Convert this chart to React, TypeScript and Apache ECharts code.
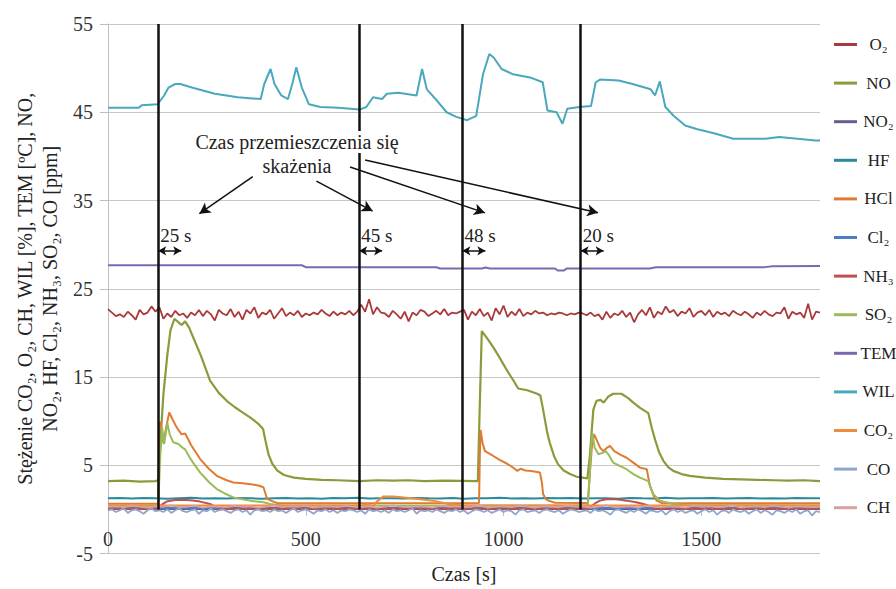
import { useEffect, useRef } from 'react';
import * as echarts from 'echarts';

const FONT = '"Liberation Serif", "DejaVu Serif", serif';

// Series names (legend order)
const seriesNames = ['O₂', 'NO', 'NO₂', 'HF', 'HCl', 'Cl₂', 'NH₃', 'SO₂', 'TEM', 'WIL', 'CO₂', 'CO', 'CH'];
const seriesColors = ['#a83a3a', '#8c9a3c', '#6b5b95', '#2a8a9c', '#e07b32', '#4a7fbf', '#c0504d', '#9bbb59', '#7c68b0', '#4aa8bd', '#f08c3a', '#8ea6c8', '#d8a0a0'];

// O₂ sampled every 10 s
const o2Step = 10;
const o2Values = [
  22.7, 22.3, 21.9, 22.1, 21.8, 22.4, 22.0, 21.5, 22.6, 22.1,
  22.3, 23.0, 22.4, 22.9, 21.6, 22.2, 21.8, 22.5, 22.0, 22.2,
  21.7, 22.3, 22.0, 22.6, 21.9, 22.5, 22.1, 21.4, 22.6, 22.2,
  22.0, 22.7, 21.8, 22.4, 21.5, 22.6, 22.2, 22.9, 21.7, 22.3,
  22.1, 22.6, 21.6, 22.2, 22.8, 21.9, 22.3, 22.0, 22.5, 21.8,
  22.2, 22.0, 22.3, 22.1, 22.6, 22.2, 21.9, 22.4, 22.0, 22.3,
  22.1, 22.5, 22.0, 22.4, 23.2, 22.4, 23.8, 22.1, 22.9, 22.3,
  22.2, 21.8, 22.5, 22.1, 21.6, 22.4, 21.3, 22.3, 22.0, 22.6,
  22.4, 21.9, 22.2, 22.5, 22.1, 22.7, 22.0, 22.3, 22.2, 22.4,
  22.6, 21.5, 22.4, 22.0, 22.7, 21.9, 22.3, 21.4, 22.8, 22.1,
  23.1, 21.8, 22.4, 22.0, 22.7, 21.9, 22.3, 22.1, 22.5, 22.2,
  22.3, 22.0, 22.2, 22.1, 22.3, 22.2, 22.0, 22.2, 22.1, 22.3,
  22.2, 22.0, 22.3, 21.9, 22.1, 21.5, 22.4, 21.7, 22.2, 22.0,
  22.5, 21.8, 22.3, 21.2, 22.1, 22.6, 22.0, 22.9, 21.7, 22.4,
  22.1, 23.0, 22.3, 22.6, 21.9, 22.4, 22.2, 22.8, 21.8, 22.3,
  22.5, 22.0, 22.6, 21.8, 22.4, 22.1, 22.3, 21.9, 22.5, 22.2,
  22.0, 22.4, 22.1, 21.7, 22.3, 22.0, 22.5, 22.1, 21.9, 22.3,
  22.2, 22.9, 21.6, 22.4, 22.1, 22.3, 21.7, 23.3, 21.5, 22.4,
  22.3,
];

const noPoints = [
  [0, 3.2], [40, 3.25], [80, 3.15], [120, 3.2], [127, 3.3], [133, 8], [140, 13], [150, 17.5], [158, 20.3],
  [168, 21.6], [178, 21.2], [186, 20.9], [195, 21.3], [205, 20.6], [220, 19], [235, 17.4], [258, 14.6],
  [280, 13.2], [300, 12.3], [320, 11.6], [340, 11.0], [360, 10.4], [380, 9.7], [392, 9.1], [398, 7.8],
  [406, 6.2], [415, 5.2], [428, 4.4], [445, 3.9], [470, 3.6], [500, 3.45], [540, 3.35], [580, 3.3],
  [636, 3.2], [680, 3.3], [720, 3.25], [760, 3.3], [800, 3.2], [850, 3.25], [935, 3.2], [940, 12],
  [945, 20.2], [960, 19.3], [975, 18.3], [990, 17.2], [1008, 15.8], [1025, 14.6], [1037, 13.7],
  [1060, 13.5], [1085, 13.1], [1093, 12.9], [1100, 11.3], [1110, 8.8], [1117, 7.5], [1128, 6.0],
  [1138, 5.1], [1152, 4.4], [1168, 4.0], [1185, 3.7], [1200, 3.6], [1212, 3.5], [1218, 6], [1227, 11.3],
  [1235, 12.3], [1245, 12.4], [1253, 12.1], [1265, 12.8], [1277, 13.1], [1298, 13.1], [1315, 12.6],
  [1328, 12.1], [1345, 11.5], [1366, 10.9], [1375, 9.2], [1383, 7.9], [1393, 6.5], [1404, 5.5],
  [1416, 4.8], [1429, 4.36], [1450, 4.0], [1471, 3.8], [1510, 3.6], [1555, 3.45], [1600, 3.4],
  [1640, 3.35], [1682, 3.3], [1720, 3.25], [1760, 3.3], [1800, 3.2],
];

const no2Points = [[0, 0.05], [1800, 0.05]];

// HF sampled every 30 s
const hfStep = 30;
const hfValues = [
  1.25, 1.30, 1.22, 1.28, 1.25, 1.20, 1.27, 1.32, 1.24, 1.26,
  1.22, 1.29, 1.25, 1.21, 1.27, 1.30, 1.24, 1.26, 1.20, 1.28,
  1.25, 1.31, 1.23, 1.27, 1.25, 1.22, 1.29, 1.26, 1.24, 1.30,
  1.21, 1.27, 1.25, 1.33, 1.24, 1.26, 1.22, 1.28, 1.25, 1.30,
  1.23, 1.27, 1.25, 1.21, 1.29, 1.26, 1.24, 1.31, 1.22, 1.27,
  1.25, 1.30, 1.23, 1.26, 1.28, 1.24, 1.27, 1.22, 1.29, 1.25,
  1.26,
];

const hclPoints = [
  [0, 0.65], [127, 0.65], [129, 9.6], [133, 9.9], [140, 7.5], [148, 9.5], [155, 11.0], [162, 10.3],
  [170, 9.6], [178, 9.0], [186, 8.5], [195, 8.6], [202, 8.0], [210, 7.3], [233, 5.7], [255, 4.6],
  [275, 3.8], [300, 3.3], [317, 3.05], [340, 2.95], [360, 2.86], [380, 2.7], [393, 2.5], [398, 1.8],
  [402, 1.2], [418, 0.88], [430, 0.7], [938, 0.72], [940, 6], [942, 9.0], [947, 7.5], [953, 6.6],
  [974, 6.05], [990, 5.6], [1008, 5.2], [1022, 4.8], [1035, 4.36], [1043, 4.6], [1055, 4.4],
  [1070, 4.36], [1092, 4.17], [1097, 3.0], [1100, 1.74], [1106, 1.2], [1113, 0.99], [1130, 0.75],
  [1213, 0.72], [1218, 4], [1224, 7.5], [1229, 8.5], [1235, 7.9], [1244, 7.0], [1252, 6.6],
  [1262, 7.0], [1269, 7.2], [1280, 6.6], [1295, 6.2], [1311, 5.85], [1328, 5.3], [1345, 4.73],
  [1362, 4.55], [1370, 2.67], [1380, 1.5], [1387, 0.99], [1400, 0.7], [1800, 0.7],
];

const cl2Points = [[0, 0.15], [1800, 0.15]];

const nh3Points = [
  [0, 0.1], [127, 0.1], [135, 0.5], [148, 0.88], [170, 1.05], [190, 1.1], [215, 1.0], [233, 0.88],
  [258, 0.62], [270, 0.3], [285, 0.1], [1213, 0.1], [1219, 0.25], [1232, 0.7], [1244, 0.99],
  [1260, 1.15], [1277, 1.18], [1295, 1.1], [1311, 0.99], [1335, 0.8], [1353, 0.62], [1370, 0.35],
  [1385, 0.1], [1800, 0.1],
];

const so2Points = [
  [0, 0.4], [127, 0.4], [132, 6], [137, 9.2], [142, 7.4], [150, 9.8], [156, 8.5], [165, 7.6],
  [178, 7.4], [188, 7.0], [195, 6.8], [205, 6.0], [215, 5.3], [233, 4.17], [255, 3.1], [275, 2.3],
  [295, 1.8], [317, 1.36], [340, 1.15], [359, 0.99], [393, 0.8], [410, 0.6], [440, 0.45],
  [1213, 0.45], [1218, 4], [1222, 7.5], [1225, 8.66], [1230, 7.0], [1240, 6.24], [1250, 6.4],
  [1258, 6.6], [1265, 6.24], [1277, 5.3], [1295, 4.9], [1311, 4.55], [1328, 4.0], [1345, 3.6],
  [1366, 3.2], [1372, 2.5], [1378, 1.74], [1395, 0.99], [1429, 0.62], [1460, 0.5], [1800, 0.45],
];

const temPoints = [
  [0, 27.66], [490, 27.66], [500, 27.45], [830, 27.43], [840, 27.3], [945, 27.3], [955, 27.4],
  [965, 27.3], [1130, 27.3], [1137, 27.06], [1152, 27.06], [1160, 27.3], [1370, 27.3], [1385, 27.43],
  [1660, 27.45], [1680, 27.55], [1800, 27.58],
];

const wilPoints = [
  [0, 45.5], [78, 45.5], [85, 45.8], [125, 45.9], [142, 46.9], [153, 47.8], [170, 48.2], [183, 48.2],
  [212, 47.8], [270, 47.1], [328, 46.7], [386, 46.5], [395, 48.2], [411, 49.9], [421, 48.2],
  [438, 46.9], [455, 46.5], [467, 48.4], [476, 50.1], [490, 47.8], [508, 45.9], [537, 45.6],
  [583, 45.5], [636, 45.3], [653, 45.6], [670, 46.7], [693, 46.5], [705, 47.1], [734, 47.2],
  [780, 46.9], [794, 49.9], [806, 47.6], [832, 46.3], [856, 45.0], [879, 44.5], [908, 44.1],
  [931, 44.6], [948, 49.3], [964, 51.6], [975, 51.2], [995, 49.9], [1024, 49.3], [1047, 49.1],
  [1070, 48.9], [1099, 48.4], [1111, 45.2], [1134, 45.0], [1149, 43.7], [1161, 45.4], [1192, 45.6],
  [1221, 45.7], [1233, 48.4], [1244, 48.7], [1291, 48.6], [1326, 48.2], [1372, 47.6], [1383, 46.9],
  [1395, 48.5], [1409, 45.6], [1430, 44.6], [1459, 43.5], [1488, 43.1], [1534, 42.6], [1581, 42.0],
  [1662, 42.0], [1697, 42.2], [1743, 42.0], [1789, 41.8], [1800, 41.8],
];

const co2Points = [
  [0, 0.45], [645, 0.45], [655, 0.6], [670, 0.35], [680, 0.9], [696, 1.47], [721, 1.47], [760, 1.3],
  [822, 0.99], [860, 0.62], [900, 0.45], [1800, 0.45],
];

// CO sampled every 10 s
const coStep = 10;
const coValues = [
  -0.1, 0.0, -0.3, -0.1, 0.1, -0.4, -0.1, 0.0, -0.2, -0.5,
  -0.1, 0.1, -0.2, -0.1, -0.3, 0.0, -0.4, -0.1, 0.1, -0.2,
  -0.3, -0.1, 0.0, -0.5, -0.1, -0.2, 0.1, -0.3, -0.1, 0.0,
  -0.2, -0.4, -0.1, 0.0, -0.3, -0.1, -0.6, -0.1, 0.0, -0.2,
  -0.1, -0.3, 0.0, -0.2, -0.1, -0.4, -0.1, 0.1, -0.3, -0.1,
  0.0, -0.2, -0.5, -0.1, -0.2, 0.0, -0.3, -0.1, -0.4, -0.1,
  -0.2, 0.0, -0.1, -0.3, -0.1, -0.5, 0.0, -0.2, -0.1, -0.3,
  -0.1, -0.4, 0.0, -0.2, -0.1, -0.3, -0.1, 0.1, -0.5, -0.1,
  -0.2, -0.1, -0.3, 0.0, -0.2, -0.4, -0.1, -0.2, 0.0, -0.3,
  -0.1, -0.5, -0.2, 0.0, -0.1, -0.3, -0.1, -0.4, -0.2, 0.0,
  -0.3, -0.1, -0.2, -0.6, -0.1, 0.0, -0.3, -0.2, -0.1, -0.4,
  -0.1, 0.0, -0.2, -0.3, -0.1, -0.5, -0.2, 0.0, -0.1, -0.3,
  -0.2, -0.1, -0.4, 0.0, -0.2, -0.1, -0.3, -0.6, -0.1, 0.0,
  -0.2, -0.4, -0.1, -0.3, 0.0, -0.2, -0.5, -0.1, -0.2, -0.3,
  -0.1, -0.6, -0.2, 0.0, -0.3, -0.1, -0.4, -0.2, -0.1, -0.5,
  -0.2, 0.0, -0.3, -0.1, -0.6, -0.2, -0.1, -0.4, 0.0, -0.2,
  -0.3, -0.1, -0.5, -0.2, 0.0, -0.4, -0.1, -0.3, -0.6, -0.1,
  -0.2, -0.4, -0.1, -0.3, 0.0, -0.5, -0.2, -0.1, -0.7, -0.2,
  -0.3,
];

// CH sampled every 20 s
const chStep = 20;
const chValues = [
  0.30, 0.35, 0.25, 0.40, 0.30, 0.20, 0.35, 0.30, 0.45, 0.25,
  0.30, 0.40, 0.20, 0.35, 0.30, 0.25, 0.40, 0.30, 0.35, 0.20,
  0.30, 0.45, 0.25, 0.35, 0.30, 0.40, 0.20, 0.30, 0.35, 0.25,
  0.40, 0.30, 0.25, 0.35, 0.20, 0.30, 0.45, 0.30, 0.25, 0.35,
  0.30, 0.20, 0.40, 0.30, 0.35, 0.25, 0.30, 0.45, 0.20, 0.30,
  0.35, 0.25, 0.40, 0.30, 0.20, 0.35, 0.30, 0.25, 0.40, 0.30,
  0.35, 0.20, 0.30, 0.45, 0.25, 0.30, 0.35, 0.20, 0.40, 0.30,
  0.25, 0.35, 0.30, 0.20, 0.40, 0.30, 0.35, 0.25, 0.30, 0.45,
  0.20, 0.30, 0.35, 0.25, 0.40, 0.30, 0.20, 0.35, 0.30, 0.25,
  0.30,
];

// Moments when the contamination reached each sensor, and travel-time labels
const eventTimes = [127, 635, 896, 1195];
const travelLabels = ['25 s', '45 s', '48 s', '20 s'];

// Pointer arrows from the caption to each travel-time label: [from, to] in axis units
const pointerArrows = [
  [[366, 37.7], [231, 33.5]],
  [[527, 37.2], [669, 33.8]],
  [[612, 38.8], [953, 33.6]],
  [[650, 39.6], [1239, 33.6]],
];

const yTicks = [-5, 5, 15, 25, 35, 45, 55];

const stepped = (values: number[], step: number) => values.map((v, i) => [i * step, v]);

const seriesData = [
  stepped(o2Values, o2Step),
  noPoints,
  no2Points,
  stepped(hfValues, hfStep),
  hclPoints,
  cl2Points,
  nh3Points,
  so2Points,
  temPoints,
  wilPoints,
  co2Points,
  stepped(coValues, coStep),
  stepped(chValues, chStep),
];
const seriesWidths = [1.8, 2.2, 2, 2, 2, 2, 2, 2, 2, 2, 2, 1.8, 1.8];

// Plot geometry: the x axis crosses the value axis at 0, i.e. 5 units above the -5 bottom
const GRID_TOP = 24;
const GRID_BOTTOM = 31;
const CHART_H = 589;
const Y_MIN = -5;
const Y_MAX = 55;
const zeroOffset = ((0 - Y_MIN) / (Y_MAX - Y_MIN)) * (CHART_H - GRID_TOP - GRID_BOTTOM);

export default function App() {
  const ref = useRef<HTMLDivElement>(null);

  useEffect(() => {
    document.body.style.margin = '0';
    const chart = echarts.init(ref.current!, null, { renderer: 'svg' });

    const dataSeries = seriesNames.map((name, i) => ({
      name,
      type: 'line',
      data: seriesData[i],
      color: seriesColors[i],
      showSymbol: false,
      symbol: 'none',
      silent: true,
      lineStyle: { color: seriesColors[i], width: seriesWidths[i] },
    }));

    const textStyle = { fontFamily: FONT, color: '#222' };

    chart.setOption({
      animation: false,
      backgroundColor: '#fff',
      grid: { left: 108, right: 76, top: GRID_TOP, bottom: GRID_BOTTOM, containLabel: false },
      xAxis: {
        type: 'value',
        min: 0,
        max: 1800,
        interval: 500,
        position: 'bottom',
        offset: -zeroOffset,
        name: 'Czas [s]',
        nameLocation: 'middle',
        nameGap: 55,
        nameTextStyle: { ...textStyle, fontSize: 20 },
        axisLine: { onZero: false, lineStyle: { color: '#bfbfbf', width: 1 } },
        axisTick: { show: true, length: 7, lineStyle: { color: '#bfbfbf' } },
        axisLabel: {
          ...textStyle,
          fontSize: 20,
          margin: 20,
          showMaxLabel: false,
          color: '#333',
          formatter: (v: number) => String(v),
        },
        splitLine: { show: false },
      },
      yAxis: {
        type: 'value',
        min: Y_MIN,
        max: Y_MAX,
        interval: 10,
        name: 'Stężenie CO₂, O₂, CH, WIL [%], TEM [ºC], NO,\nNO₂, HF, Cl₂, NH₃, SO₂, CO [ppm]',
        nameLocation: 'middle',
        nameRotate: 90,
        nameGap: 36,
        nameTextStyle: { ...textStyle, fontSize: 20, lineHeight: 25 },
        axisLine: { show: true, onZero: false, lineStyle: { color: '#bfbfbf', width: 1 } },
        axisTick: { show: true, length: 8, lineStyle: { color: '#bfbfbf' }, customValues: yTicks },
        axisLabel: { ...textStyle, fontSize: 20, margin: 15, color: '#333', customValues: yTicks },
        splitLine: { show: true, lineStyle: { color: '#c8c8c8', width: 1 } },
      },
      legend: {
        data: seriesNames,
        orient: 'vertical',
        left: 829,
        top: 31,
        itemWidth: 23,
        itemHeight: 3,
        itemGap: 21.6,
        icon: 'rect',
        selectedMode: false,
        formatter: (n: string) => `{c|${n}}`,
        textStyle: {
          ...textStyle,
          fontSize: 17,
          rich: { c: { fontFamily: FONT, fontSize: 17, color: '#222', width: 33, align: 'center', lineHeight: 20 } },
        },
      },
      graphic: [
        {
          type: 'text',
          z: 100,
          x: 297,
          y: 142,
          style: {
            text: 'Czas przemieszczenia się',
            font: `20px ${FONT}`,
            fill: '#222',
            align: 'center',
            verticalAlign: 'middle',
            backgroundColor: '#fff',
            padding: [1, 2],
          },
        },
        {
          type: 'text',
          z: 100,
          x: 297,
          y: 166,
          style: {
            text: 'skażenia',
            font: `20px ${FONT}`,
            fill: '#222',
            align: 'center',
            verticalAlign: 'middle',
          },
        },
      ],
      series: [
        ...dataSeries,
        {
          name: 'events',
          type: 'line',
          data: [],
          silent: true,
          z: 5,
          markLine: {
            silent: true,
            symbol: ['none', 'none'],
            label: { show: false },
            lineStyle: { color: '#111', width: 2.5, type: 'solid' },
            data: eventTimes.map((t) => [{ coord: [t, 0] }, { coord: [t, 55] }]),
          },
        },
        {
          name: 'travel',
          type: 'line',
          data: [],
          silent: true,
          z: 6,
          markLine: {
            silent: true,
            symbol: ['arrow', 'arrow'],
            symbolSize: [7, 8],
            lineStyle: { color: '#111', width: 1.5, type: 'solid' },
            label: {
              show: true,
              position: 'insideStartTop',
              distance: [2, 6],
              formatter: (p: any) => travelLabels[p.dataIndex],
              fontFamily: FONT,
              fontSize: 19,
              color: '#222',
            },
            data: eventTimes.map((t) => [{ coord: [t, 29.3] }, { coord: [t + 58, 29.3] }]),
          },
        },
        {
          name: 'pointers',
          type: 'line',
          data: [],
          silent: true,
          z: 6,
          markLine: {
            silent: true,
            symbol: ['none', 'arrow'],
            symbolSize: [9, 11],
            label: { show: false },
            lineStyle: { color: '#111', width: 1.5, type: 'solid' },
            data: pointerArrows.map(([a, b]) => [{ coord: a }, { coord: b }]),
          },
        },
      ],
    });

    return () => chart.dispose();
  }, []);

  return <div ref={ref} style={{ width: 896, height: 589 }} />;
}
